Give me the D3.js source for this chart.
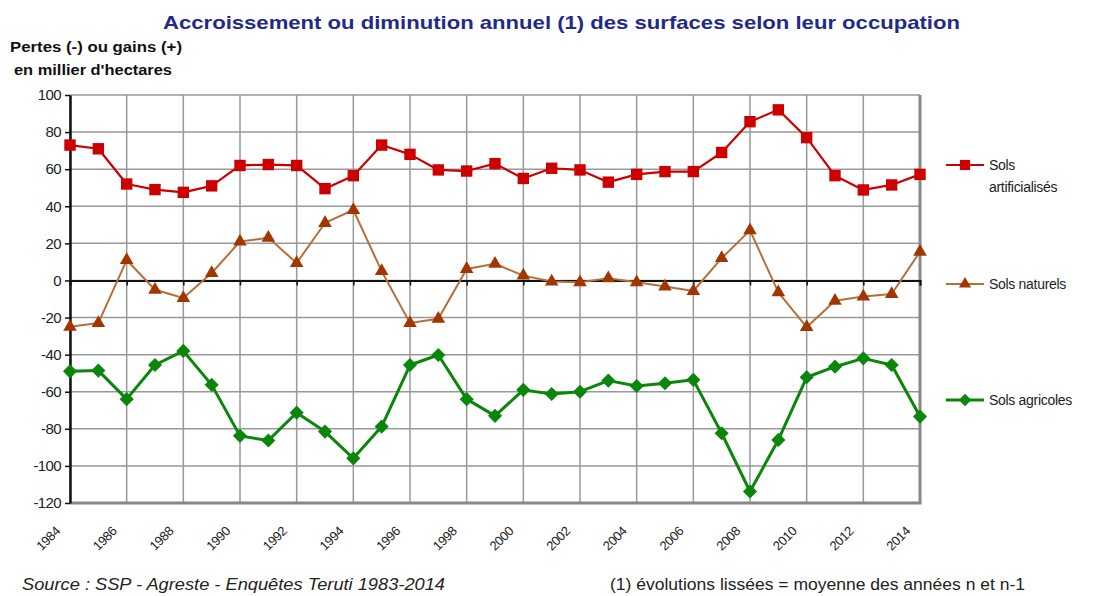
<!DOCTYPE html>
<html>
<head>
<meta charset="utf-8">
<script src="https://cdn.jsdelivr.net/npm/d3@7"></script>
<style>
  body { margin: 0; background: #fff; }
  svg { font-family: "Liberation Sans", Arial, sans-serif; }
</style>
</head>
<body>
<div id="chart"></div>
<script>
// Annual change of land areas by use, thousands of hectares
const years = d3.range(1984, 2015);
const artificialises = [73, 71, 52, 49, 47.5, 51, 62, 62.5, 62, 49.5, 56.5, 73, 68, 59.6, 59, 63, 55, 60.5, 59.6, 53, 57.2,
  58.7, 58.7, 69, 85.6, 92, 77, 56.5, 48.8, 51.5, 57.2];
const naturels = [-25, -23, 11, -5, -9.5, 4, 21, 23, 9.4, 31, 38, 5, -23, -20.7, 6.2, 9, 2.6, -0.6, -1, 1.2, -1,
  -3.3, -5.7, 12, 27, -6.4, -25.2, -11, -8.7, -7.3, 15.5];
const agricoles = [-49, -48.6, -64, -45.6, -38, -56.3, -83.8, -86.3, -71.3, -81.5, -95.9, -78.8, -45.6, -40.2, -64, -73,
  -59, -61.2, -60, -54, -56.9, -55.4, -53.6, -82.4, -113.8, -86, -52.2, -46.5, -42, -45.6, -73.4];
const yTicks = d3.range(-120, 101, 20);
const xTicks = d3.range(1984, 2015, 2);

const series = [
  { name: ['Sols', 'artificialisés'], values: artificialises, line: '#cc0000', fill: '#cc0000', symbol: d3.symbolSquare, size: 130, rot: 0, width: 2.2, ly: 165 },
  { name: ['Sols naturels'], values: naturels, line: '#b3703a', fill: '#a33600', symbol: d3.symbolTriangle, size: 80, rot: 0, width: 2, ly: 284 },
  { name: ['Sols agricoles'], values: agricoles, line: '#0a860a', fill: '#0a860a', symbol: d3.symbolSquare, size: 100, rot: 45, width: 3, ly: 400 }
];

const width = 1106, height = 596;
const margin = { top: 95, right: 186, bottom: 93, left: 70 };

const svg = d3.select('#chart').append('svg')
  .attr('width', width)
  .attr('height', height);

const x = d3.scaleLinear().domain([1984, 2014]).range([margin.left, width - margin.right]);
const y = d3.scaleLinear().domain([-120, 100]).range([height - margin.bottom, margin.top]);

// Grid
svg.append('g')
  .selectAll('line')
  .data(yTicks)
  .enter()
  .append('line')
  .attr('x1', x(1984)).attr('x2', x(2014))
  .attr('y1', d => y(d)).attr('y2', d => y(d))
  .attr('stroke', '#999').attr('stroke-width', 1.5);

svg.append('g')
  .selectAll('line')
  .data(xTicks)
  .enter()
  .append('line')
  .attr('x1', d => x(d)).attr('x2', d => x(d))
  .attr('y1', y(100)).attr('y2', y(-120))
  .attr('stroke', '#999').attr('stroke-width', 1.5);

// Plot border: right and bottom darker
svg.append('line')
  .attr('x1', x(2014)).attr('x2', x(2014))
  .attr('y1', y(100)).attr('y2', y(-120))
  .attr('stroke', '#888').attr('stroke-width', 3);
svg.append('line')
  .attr('x1', x(1984)).attr('x2', x(2014) + 1.5)
  .attr('y1', y(-120)).attr('y2', y(-120))
  .attr('stroke', '#888').attr('stroke-width', 3);

// Zero line with ticks
const xAxis = svg.append('g')
  .attr('transform', `translate(0,${y(0)})`)
  .call(d3.axisBottom(x).tickValues(xTicks).tickSize(5).tickFormat(''));
xAxis.select('.domain').attr('stroke', '#111').attr('stroke-width', 2);
xAxis.selectAll('.tick line').attr('stroke', '#111').attr('stroke-width', 1.5);

// Y axis
const yAxis = svg.append('g')
  .attr('transform', `translate(${x(1984)},0)`)
  .call(d3.axisLeft(y).tickValues(yTicks).tickSize(5).tickSizeOuter(0).tickPadding(4)
    .tickFormat(d => String(d)));
yAxis.select('.domain').attr('stroke', '#111').attr('stroke-width', 2.5);
yAxis.selectAll('.tick line').attr('stroke', '#111').attr('stroke-width', 1.5);
yAxis.selectAll('.tick text')
  .attr('font-size', '15px')
  .attr('fill', '#222')
  .attr('font-family', '"Liberation Sans", Arial, sans-serif')
  .attr('letter-spacing', '-0.6px');

// X labels rotated
svg.append('g')
  .selectAll('text')
  .data(xTicks)
  .enter()
  .append('text')
  .attr('transform', d => `translate(${x(d) - 9},${y(-120) + 29}) rotate(-45)`)
  .attr('text-anchor', 'end')
  .attr('font-size', '13px')
  .attr('fill', '#222')
  .attr('letter-spacing', '-0.4px')
  .text(d => d);

// Lines and markers
const line = d3.line().x((d, i) => x(years[i])).y(d => y(d));

series.forEach(s => {
  svg.append('path')
    .datum(s.values)
    .attr('d', line)
    .attr('fill', 'none')
    .attr('stroke', s.line)
    .attr('stroke-width', s.width)
    .attr('stroke-linejoin', 'round');

  svg.append('g')
    .selectAll('path')
    .data(s.values)
    .enter()
    .append('path')
    .attr('d', d3.symbol().type(s.symbol).size(s.size))
    .attr('transform', (d, i) => `translate(${x(years[i])},${y(d)}) rotate(${s.rot})`)
    .attr('fill', s.fill);

  // Legend
  const lg = svg.append('g').attr('transform', `translate(946,${s.ly})`);
  lg.append('line')
    .attr('x1', 0).attr('x2', 38)
    .attr('y1', 0).attr('y2', 0)
    .attr('stroke', s.line).attr('stroke-width', s.width);
  lg.append('path')
    .attr('d', d3.symbol().type(s.symbol).size(s.size * 0.8))
    .attr('transform', `translate(19,0) rotate(${s.rot})`)
    .attr('fill', s.fill);
  lg.append('text')
    .attr('x', 43).attr('y', 5)
    .attr('font-size', '14px')
    .attr('fill', '#222')
    .attr('letter-spacing', '-0.3px')
    .selectAll('tspan')
    .data(s.name)
    .enter()
    .append('tspan')
    .attr('x', 43)
    .attr('dy', (d, i) => i === 0 ? 0 : 22)
    .text(d => d);
});

// Title
svg.append('text')
  .attr('x', 163).attr('y', 29)
  .attr('font-size', '19px')
  .attr('font-weight', 'bold')
  .attr('fill', '#1f2a8a')
  .attr('textLength', 797)
  .attr('lengthAdjust', 'spacingAndGlyphs')
  .text('Accroissement ou diminution annuel (1) des surfaces selon leur occupation');

// Y axis label
svg.append('text')
  .attr('x', 10).attr('y', 52)
  .attr('font-size', '14px')
  .attr('font-weight', 'bold')
  .attr('fill', '#111')
  .attr('textLength', 172)
  .attr('lengthAdjust', 'spacingAndGlyphs')
  .text('Pertes (-) ou gains (+)');
svg.append('text')
  .attr('x', 14).attr('y', 75)
  .attr('font-size', '14px')
  .attr('font-weight', 'bold')
  .attr('fill', '#111')
  .attr('textLength', 158)
  .attr('lengthAdjust', 'spacingAndGlyphs')
  .text("en millier d'hectares");

// Footer
svg.append('text')
  .attr('x', 22).attr('y', 590)
  .attr('font-size', '16px')
  .attr('font-style', 'italic')
  .attr('fill', '#222')
  .attr('textLength', 423)
  .attr('lengthAdjust', 'spacingAndGlyphs')
  .text('Source : SSP - Agreste - Enquêtes Teruti 1983-2014');
svg.append('text')
  .attr('x', 610).attr('y', 590)
  .attr('font-size', '16px')
  .attr('fill', '#222')
  .attr('textLength', 415)
  .attr('lengthAdjust', 'spacingAndGlyphs')
  .text('(1) évolutions lissées = moyenne des années n et n-1');
</script>
</body>
</html>
